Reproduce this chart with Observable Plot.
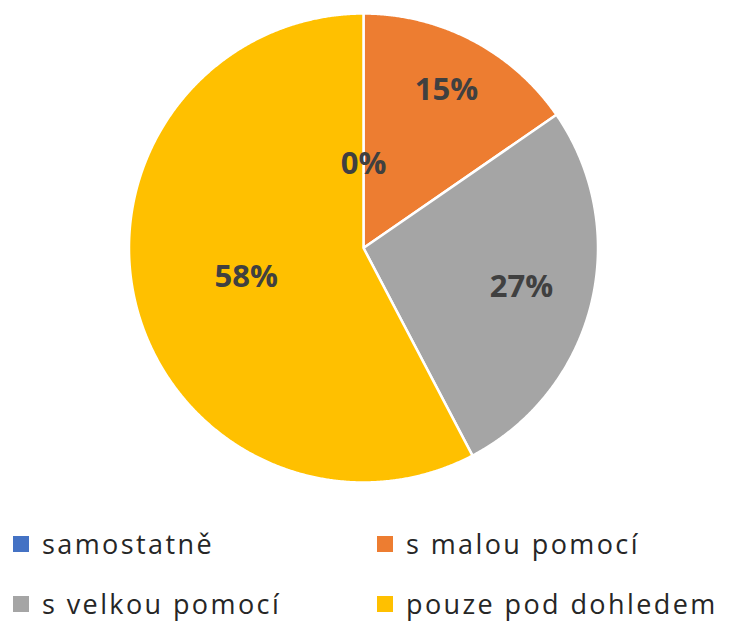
<!DOCTYPE html>
<html><head><meta charset="utf-8">
<script src="https://cdn.jsdelivr.net/npm/d3@7"></script>
<script src="https://cdn.jsdelivr.net/npm/@observablehq/plot@0.6"></script>
<style>
body{margin:0;background:#fff;font-family:"Open Sans",sans-serif;}
#legend{position:relative;height:129px;width:733px;}
.item{position:absolute;display:flex;align-items:center;height:28px;line-height:28px;font-size:27px;letter-spacing:2.4px;color:#262626;white-space:nowrap;}
.sw{width:16px;height:16px;margin-right:13px;flex:none;}
</style></head><body><div id="chart"></div><div id="legend"></div>
<script>
const categories = ["samostatně", "s malou pomocí", "s velkou pomocí", "pouze pod dohledem"];
const counts = [0, 4, 7, 15];
const colors = ["#4472C4", "#ED7D31", "#A5A5A5", "#FFC000"];

const total = d3.sum(counts);
const arcs = d3.pie().sort(null).value(d => d)(counts);
const features = arcs.map((a, i) => {
  const span = a.endAngle - a.startAngle;
  const n = Math.max(2, Math.ceil(span / 0.005));
  const ring = [[0, 0]];
  for (let k = 0; k <= n; k++) {
    const t = a.startAngle + span * k / n;
    ring.push([Math.sin(t), -Math.cos(t)]);
  }
  ring.push([0, 0]);
  return {type: "Feature", properties: {name: categories[i], value: counts[i]},
    geometry: {type: "Polygon", coordinates: [ring]}};
});
const labels = arcs.map((a, i) => {
  const share = counts[i] / total;
  const mid = (a.startAngle + a.endAngle) / 2;
  const r = share === 0 ? 0.36 : 0.85 - 0.58 * share;
  return {x: r * Math.sin(mid), y: -r * Math.cos(mid), text: Math.round(share * 100) + "%"};
});

const chart = Plot.plot({
  width: 733, height: 494,
  marginLeft: 128, marginRight: 135, marginTop: 13, marginBottom: 12,
  projection: {type: "identity", inset: 0,
    domain: {type: "MultiPoint", coordinates: [[-1, -1], [1, 1]]}},
  color: {domain: categories, range: colors},
  marks: [
    Plot.geo(features, {fill: d => d.properties.name, stroke: "white", strokeWidth: 2.5}),
    Plot.text(labels, {x: "x", y: "y", text: "text", fontSize: 31, fontWeight: "bold",
      fill: "#404040", fontFamily: "Open Sans"})
  ]
});
document.getElementById("chart").appendChild(chart);

const legend = document.getElementById("legend");
const pos = [[13, 35.5], [377, 35.5], [13, 95.5], [377, 95.5]];
categories.forEach((c, i) => {
  const it = document.createElement("div");
  it.className = "item";
  it.style.left = pos[i][0] + "px";
  it.style.top = pos[i][1] + "px";
  const sw = document.createElement("span");
  sw.className = "sw"; sw.style.background = colors[i];
  const tx = document.createElement("span");
  tx.textContent = c;
  it.appendChild(sw); it.appendChild(tx);
  legend.appendChild(it);
});
</script></body></html>
